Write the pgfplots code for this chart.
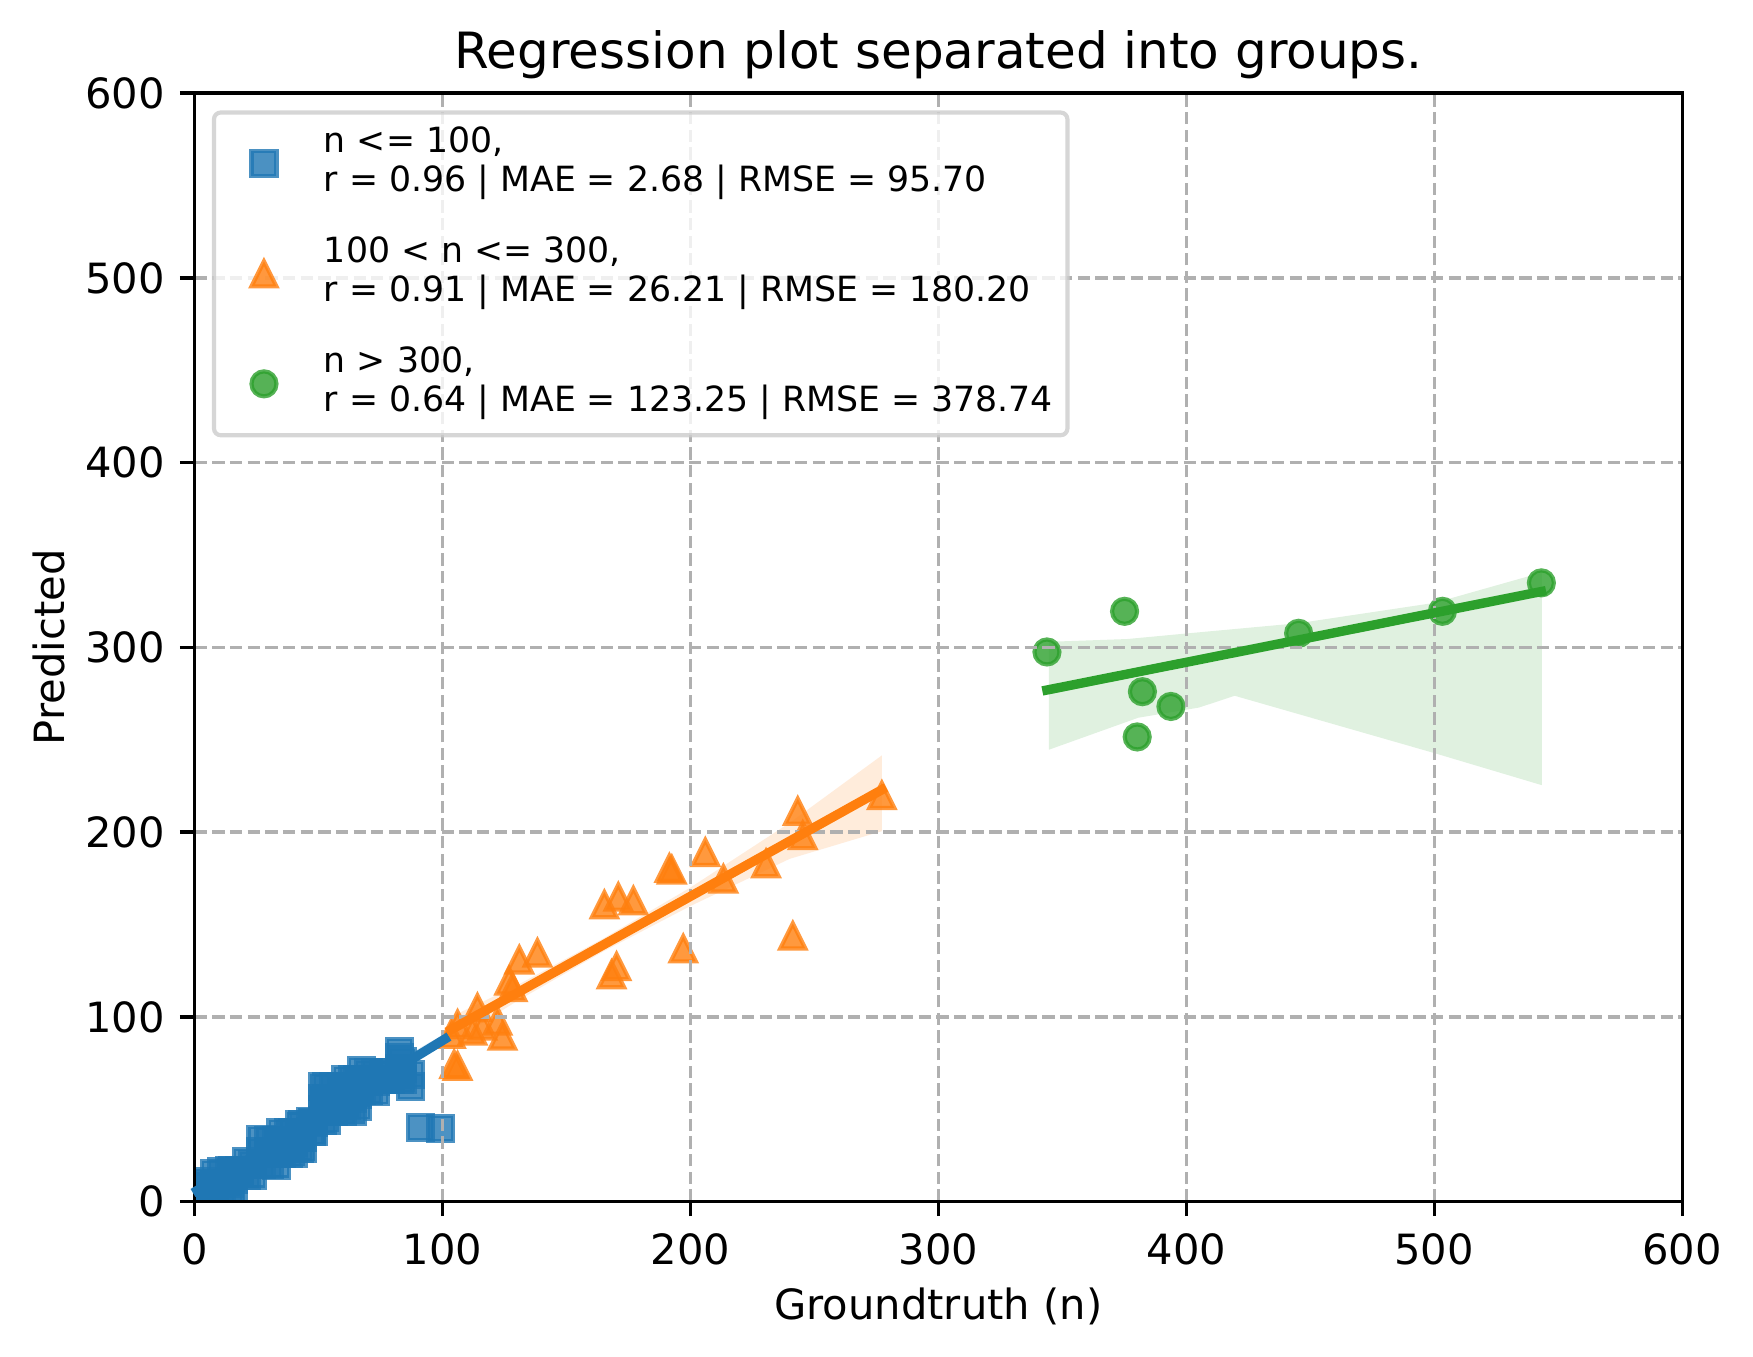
\documentclass[border=0pt]{standalone}
\usepackage{fontspec}
\setmainfont{DejaVu Sans}
\usepackage{pgfplots}
\pgfplotsset{compat=1.18}
\usetikzlibrary{calc}
\definecolor{C0}{RGB}{31,119,180}
\definecolor{C1}{RGB}{255,127,14}
\definecolor{C2}{RGB}{44,160,44}
\definecolor{gridc}{RGB}{176,176,176}
\definecolor{legc}{RGB}{204,204,204}
\pgfdeclareplotmark{mtri}{%
  \pgfpathmoveto{\pgfqpoint{0pt}{\pgfplotmarksize}}%
  \pgfpathlineto{\pgfqpoint{-\pgfplotmarksize}{-\pgfplotmarksize}}%
  \pgfpathlineto{\pgfqpoint{\pgfplotmarksize}{-\pgfplotmarksize}}%
  \pgfpathclose\pgfusepathqfillstroke}
\pgfplotsset{mylegimg/.style={legend image code/.code={\path[draw=none,fill=none] (0pt,-3.5pt) rectangle (17pt,3.5pt); \draw[##1] plot coordinates {(8.5pt,0pt)};}}}
\newcommand{\legtext}[2]{\begin{tabular}{@{}l@{}}#1\\#2\end{tabular}}
\begin{document}
\begin{tikzpicture}
\begin{axis}[
  set layers=axis on top,
  scale only axis, width=357.12pt, height=266.11pt,
  at={(0,0)}, anchor=south west,
  xmin=0, xmax=600, ymin=0, ymax=600,
  xtick={0,100,...,600}, ytick={0,100,...,600},
  tick align=outside, xtick pos=lower, ytick pos=left,
  major tick length=3.5pt,
  tick style={black, line width=0.8pt},
  axis line style={black, line width=0.8pt},
  grid=major,
  major grid style={gridc, line width=0.8pt, dash pattern=on 2.96pt off 1.28pt},
  /pgf/number format/assume math mode=true,
  xticklabel style={anchor=base, inner sep=0pt, yshift=-11.5pt},
  yticklabel style={anchor=east, inner sep=0pt, xshift=-3.5pt},
  clip marker paths=true,
  every axis title/.style={at={(axis description cs:0.5,1)}, anchor=base, yshift=6pt, inner sep=0pt, font=\fontsize{12}{14.4}\selectfont},
  title={Regression plot separated into groups.},
  every axis x label/.style={at={(axis description cs:0.5,0)}, anchor=base, yshift=-28.4pt, inner sep=0pt},
  every axis y label/.style={at={($(axis description cs:0,0.5)+(-31.1pt,0pt)$)}, anchor=base, rotate=90, inner sep=0pt},
  xlabel={Groundtruth (n)},
  ylabel={Predicted},
  legend cell align=left,
  legend style={at={(axis description cs:0,1)}, anchor=north west, xshift=4.17pt, yshift=-4.17pt,
    draw=legc, draw opacity=0.8, line width=1pt, fill=white, fill opacity=0.8, text opacity=1,
    rounded corners=1.6pt, inner xsep=3.5pt, inner ysep=2.9pt, row sep=7.54pt, column sep=5.9pt,
    nodes={inner sep=0pt, text depth=}, font=\fontsize{8.33}{9.43}\selectfont},
]
% ---- group 1: n <= 100
\addplot[only marks, mark=square*, mark size=3pt,
  mark options={draw=C0, fill=C0, opacity=0.8, line width=1pt, sharp corners},
  mylegimg]
  table {
x y
2 2
2 8
5 3
5 9
5 11
8 3
8 9
8 15
11 3
11 10
11 16
14 3
14 10
14 17
15.5 4
15.5 12
15.5 17
18 15
18 17
20.8 14.4
20.8 21.6
23.5 14.4
23.5 20
26.8 20
26.8 27
26.8 33.4
30 20
30 27
30 33
33 19.8
33 26
33 33
34.9 26
34.9 32
34.9 37.6
38 26
38 32
38 37.6
39.7 26
39.7 32
39.7 37.6
42.3 29
42.3 35
42.3 41.5
43.7 28.8
43.7 35
43.7 41.5
47 38
47 43.3
47.8 38
47.8 43
51.7 44
51.7 50
51.7 56
51.7 62.3
53.1 44.2
53.1 50
53.1 56
53.1 62
56 48.7
56 55
56 62
59.5 48.7
59.5 55
59.5 62
61.1 52
61.1 59
61.1 66
63.6 49
63.6 56
63.6 62
63.6 66
65.6 51.6
65.6 58
65.6 66
67.2 60
67.2 66
67.2 71
70 60
70 65
70 69.6
73 59.8
73 65
73 69.6
76.3 66
76.3 69.6
79 66
79 69
82.7 66
82.7 72
82.7 78
82.7 81.3
84 66
84 72
84 76
87.1 62.5
87.1 68.7
91 40.2
99.3 39.5
};
\addlegendentry{\legtext{n <= 100,}{r = 0.96 | MAE = 2.68 | RMSE = 95.70}}
\addplot[fill=C0, fill opacity=0.15, draw=none, forget plot]
  coordinates {(1,9) (50,48) (90,82.5) (101,91) (101,85) (90,77.5) (50,43) (1,3)} -- cycle;
\addplot[on layer=axis foreground, C0, line width=2.25pt, line cap=rect, forget plot]
  coordinates {(1,6) (101,88)};
% ---- group 2: 100 < n <= 300
\addplot[only marks, mark=mtri, mark size=3pt,
  mark options={draw=C1, fill=C1, opacity=0.8, line width=1pt, sharp corners},
  mylegimg]
  table {
x y
277.2 219.8
243.3 211.3
245.3 198.1
206.0 189.0
191.5 180.4
192.5 179.5
230.5 182.9
213.3 174.6
170.9 164.8
165.3 160.7
177.0 162.8
241.3 143.8
197.1 136.8
170.2 127.2
168.2 122.8
138.3 134.6
131.0 130.8
126.9 119.4
128.3 115.8
114.1 104.9
122.2 97.7
124.2 89.6
106.1 95.9
103.4 90.5
112.1 92.3
104.7 74.2
106.1 73.3
116.1 95.0
};
\addlegendentry{\legtext{100 < n <= 300,}{r = 0.91 | MAE = 26.21 | RMSE = 180.20}}
\addplot[fill=C1, fill opacity=0.15, draw=none, forget plot]
  coordinates {(103.4,100) (130,117) (165,142.5) (200,170) (240,205) (277.2,241.5)
               (277.2,200.5) (240,185.5) (200,160) (165,135.5) (130,108.5) (103.4,86)} -- cycle;
\addplot[on layer=axis foreground, C1, line width=2.25pt, line cap=rect, forget plot]
  coordinates {(103.4,93.0) (277.2,222.9)};
% ---- group 3: n > 300
\addplot[only marks, mark=*, mark size=3pt,
  mark options={draw=C2, fill=C2, opacity=0.8, line width=1pt, sharp corners},
  mylegimg]
  table {
x y
343.8 297.5
375.1 319.5
382.3 276.0
380.2 251.5
393.8 268.0
445.3 307.6
503.3 319.5
543.2 334.9
};
\addlegendentry{\legtext{n > 300,}{r = 0.64 | MAE = 123.25 | RMSE = 378.74}}
\addplot[fill=C2, fill opacity=0.15, draw=none, forget plot]
  coordinates {(344.6,303.0) (376.2,304.5) (400.8,307.6) (445.4,313.1) (500.2,324.1) (543.4,340.5)
               (543.4,225.4) (500.2,242.7) (419.5,273.8) (405.1,267.4) (380.6,261.9) (344.6,244.6)} -- cycle;
\addplot[on layer=axis foreground, C2, line width=2.25pt, line cap=rect, forget plot]
  coordinates {(343.8,276.9) (543.2,330.2)};
\end{axis}
\pgfresetboundingbox
\path[use as bounding box] (-46.7pt,-37.3pt) rectangle (374.12pt,288.46pt);
\end{tikzpicture}
\end{document}
